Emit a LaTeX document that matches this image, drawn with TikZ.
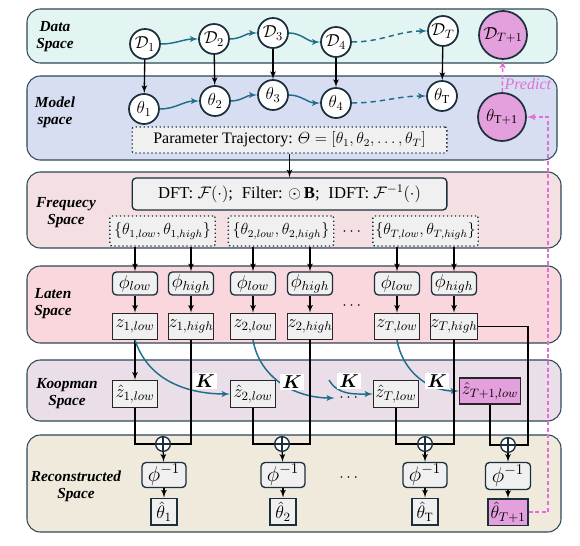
\RequirePackage{fix-cm}
\documentclass[tikz,border=0pt]{standalone}
\usepackage{amsmath,amssymb}
\usepackage{fontspec}
\setmainfont{Liberation Serif}
\usetikzlibrary{shapes,arrows,positioning,calc}

\definecolor{bandline}{HTML}{2E4756}
\definecolor{nodeline}{HTML}{1B2F3D}
\definecolor{databack}{HTML}{E3F5F3}
\definecolor{modelback}{HTML}{D8DEF1}
\definecolor{freqback}{HTML}{F4E0E2}
\definecolor{latenback}{HTML}{F9D7DD}
\definecolor{koopback}{HTML}{EADFE9}
\definecolor{reconback}{HTML}{EFEADC}
\definecolor{flowblue}{HTML}{1F6E8C}
\definecolor{predpink}{HTML}{E070D6}
\definecolor{predfill}{HTML}{E4A0DC}
\definecolor{boxgray}{HTML}{F0F0F0}

\begin{document}
\begin{tikzpicture}[x=0.75pt, y=-0.75pt, >=latex', every text node part/.style={align=center},
    band/.style={draw=bandline, line width=0.8pt, rounded corners=10pt},
    bandlabel/.style={font=\fontsize{11.5}{12.75}\selectfont\bfseries\itshape},
    state/.style={circle, draw=nodeline, line width=1.3pt, fill=white, minimum size=22.5pt, inner sep=0pt, font=\fontsize{13}{12}\selectfont},
    bigstate/.style={state, fill=predfill, minimum size=36pt},
    dotbox/.style={draw=nodeline, dotted, line width=1pt, fill=boxgray, rounded corners=1.5pt, inner sep=1pt, minimum width=79pt, minimum height=22.5pt, font=\fontsize{12}{12}\selectfont},
    opbox/.style={draw=nodeline, line width=1pt, fill=boxgray, rounded corners=3pt, minimum width=236pt, font=\fontsize{12}{12}\selectfont},
    encbox/.style={draw=nodeline, line width=1pt, fill=boxgray, rounded corners=3pt, minimum width=33.75pt, minimum height=17.25pt, inner sep=0pt, font=\fontsize{14}{12}\selectfont},
    latbox/.style={draw=black!85, line width=1pt, fill=boxgray, minimum width=33.75pt, minimum height=19.5pt, inner sep=0pt, font=\fontsize{13.5}{12}\selectfont},
    sumnode/.style={circle, draw=nodeline, line width=1pt, fill=white, minimum size=11pt, inner sep=0pt,
        path picture={\draw[line width=1pt] (path picture bounding box.north) -- (path picture bounding box.south)
                      (path picture bounding box.west) -- (path picture bounding box.east);}},
    flow/.style={->, draw=flowblue, line width=1.1pt},
    flowdash/.style={flow, dash pattern=on 4pt off 3pt},
    link/.style={->, line width=1pt},
    wire/.style={line width=1pt},
    klabel/.style={fill=white, inner sep=1.5pt, font=\fontsize{14}{12}\selectfont},
    pred/.style={->, draw=predpink, line width=1.2pt, dash pattern=on 3pt off 2pt},
    dots/.style={font=\fontsize{12}{12}\selectfont}]

    \useasboundingbox (0,0) rectangle (580,545);

    % spaces
    \draw[band, fill=databack] (27,9) rectangle (557,63);
    \draw[band, fill=modelback] (27,76) rectangle (557,160);
    \draw[band, fill=freqback] (27,172) rectangle (561,248);
    \draw[band, fill=latenback] (27,266) rectangle (561,343);
    \draw[band, fill=koopback] (27,360) rectangle (561,421);
    \draw[band, fill=reconback] (27,435) rectangle (561,532);

    \node[bandlabel] (dataL) at (55,37) {Data\\Space};
    \node[bandlabel] (modelL) at (55,112) {Model\\space};
    \node[bandlabel] (freqL) at (66,213) {Frequecy\\Space};
    \node[bandlabel] (latenL) at (53,304) {Laten\\Space};
    \node[bandlabel] (koopL) at (67,394) {Koopman\\Space};
    \node[bandlabel] (reconL) at (76,486) {Reconstructed\\Space};

    % data and model states
    \node[state] (D1) at (145,44) {$\mathcal{D}_1$};
    \node[state] (D2) at (214,39) {$\mathcal{D}_2$};
    \node[state] (D3) at (273,33) {$\mathcal{D}_3$};
    \node[state] (D4) at (336,42) {$\mathcal{D}_4$};
    \node[state] (DT) at (443,31) {$\mathcal{D}_T$};
    \node[bigstate] (DT1) at (503,35) {$\mathcal{D}_{T+1}$};

    \node[state] (th1) at (144,109) {$\theta_1$};
    \node[state] (th2) at (215,101) {$\theta_2$};
    \node[state] (th3) at (273,95) {$\theta_3$};
    \node[state] (th4) at (336,103) {$\theta_4$};
    \node[state] (thT) at (442,96) {$\theta_{\mathrm{T}}$};
    \node[bigstate] (thT1) at (502,117) {$\theta_{\mathrm{T+1}}$};

    \draw[flow] (D1) to[out=0,in=180] (D2);
    \draw[flow] (D2) to[out=0,in=180] (D3);
    \draw[flow] (D3) to[out=0,in=180] (D4);
    \draw[flowdash] (D4) to[out=0,in=180] (DT);
    \draw[flow] (th1) to[out=0,in=180] (th2);
    \draw[flow] (th2) to[out=0,in=180] (th3);
    \draw[flow] (th3) to[out=0,in=180] (th4);
    \draw[flowdash] (th4) to[out=0,in=180] (thT);

    \draw[link] (D1) -- (th1);
    \draw[link] (D2) -- (th2);
    \draw[link] (D3) -- (th3);
    \draw[link] (D4) -- (th4);
    \draw[link] (DT) -- (thT);

    \node[opbox, dotted, rounded corners=1.5pt, minimum height=19.5pt] (traj) at (289.5,140)
        {Parameter Trajectory: $\varTheta = [\theta_1, \theta_2, \ldots, \theta_T]$};

    % frequency space
    \node[opbox, minimum height=24pt, font=\fontsize{12.5}{12}\selectfont] (dft) at (289.5,194)
        {DFT: $\mathcal{F}(\cdot)$;\; Filter: $\odot\,\mathbf{B}$;\; IDFT: $\mathcal{F}^{-1}(\cdot)$};
    \draw[link] (traj) -- (dft);

    \node[dotbox] (S1) at (162.5,231) {$\{\theta_{1,low}, \theta_{1,high}\}$};
    \node[dotbox] (S2) at (281,231) {$\{\theta_{2,low}, \theta_{2,high}\}$};
    \node[dotbox] (ST) at (425.5,231) {$\{\theta_{T,low}, \theta_{T,high}\}$};
    \node[dots] (fdots) at (353,232) {$\cdots$};

    % laten space
    \node[encbox] (pL1) at (135,283.5) {$\phi_{low}$};
    \node[encbox] (pH1) at (191,283.5) {$\phi_{high}$};
    \node[encbox] (pL2) at (253,283.5) {$\phi_{low}$};
    \node[encbox] (pH2) at (310,283.5) {$\phi_{high}$};
    \node[encbox] (pLT) at (397,283.5) {$\phi_{low}$};
    \node[encbox] (pHT) at (454,283.5) {$\phi_{high}$};
    \node[dots] (ldots) at (353,306) {$\cdots$};

    \node[latbox, below=12.75pt of pL1] (zL1) {$z_{1,low}$};
    \node[latbox, below=12.75pt of pH1] (zH1) {$z_{1,high}$};
    \node[latbox, below=12.75pt of pL2] (zL2) {$z_{2,low}$};
    \node[latbox, below=12.75pt of pH2] (zH2) {$z_{2,high}$};
    \node[latbox, below=12.75pt of pLT] (zLT) {$z_{T,low}$};
    \node[latbox, below=12.75pt of pHT] (zHT) {$z_{T,high}$};

    \draw[link] (S1.south -| pL1) -- (pL1);
    \draw[link] (S1.south -| pH1) -- (pH1);
    \draw[link] (S2.south -| pL2) -- (pL2);
    \draw[link] (S2.south -| pH2) -- (pH2);
    \draw[link] (ST.south -| pLT) -- (pLT);
    \draw[link] (ST.south -| pHT) -- (pHT);
    \draw[link] (pL1) -- (zL1);
    \draw[link] (pH1) -- (zH1);
    \draw[link] (pL2) -- (zL2);
    \draw[link] (pH2) -- (zH2);
    \draw[link] (pLT) -- (zLT);
    \draw[link] (pHT) -- (zHT);

    % koopman space
    \node[latbox, minimum height=20.25pt] (zh1) at (135,394) {$\hat{z}_{1,low}$};
    \node[latbox, minimum height=20.25pt] (zh2) at (253,394) {$\hat{z}_{2,low}$};
    \node[latbox, minimum height=20.25pt] (zhT) at (396,394) {$\hat{z}_{T,low}$};
    \node[latbox, fill=predfill, minimum width=45.75pt, font=\fontsize{13}{12}\selectfont] (zhT1) at (490,391) {$\hat{z}_{T+1,low}$};
    \node[dots] (kdots) at (350,398) {$\cdots$};
    \coordinate (kstart) at (329,380);

    \draw[link] (zL1) -- (zh1);
    \draw[flow] (zL1.south) to[out=-72,in=180] (zh2.west);
    \draw[flow] (zL2.south) to[out=-80,in=180] (kdots.west);
    \draw[flow] (kstart) to[out=-60,in=180] (zhT.west);
    \draw[flow] (zLT.south) to[out=-80,in=180] (zhT1.west);

    \node[klabel] (K1) at (205,381) {$\boldsymbol{K}$};
    \node[klabel] (K2) at (292,382) {$\boldsymbol{K}$};
    \node[klabel] (K3) at (349,381) {$\boldsymbol{K}$};
    \node[klabel] (K4) at (437,381) {$\boldsymbol{K}$};

    % reconstructed space
    \node[sumnode] (sum1) at (163,444) {};
    \node[sumnode] (sum2) at (282,444) {};
    \node[sumnode] (sumT) at (425,444) {};
    \node[sumnode] (sumT1) at (508,445) {};
    \coordinate (turn) at (528,445);

    \draw[wire] (zh1.south) |- (sum1.west);
    \draw[wire] (zH1.south) |- (sum1.east);
    \draw[wire] (zh2.south) |- (sum2.west);
    \draw[wire] (zH2.south) |- (sum2.east);
    \draw[wire] (zhT.south) |- (sumT.west);
    \draw[wire] (zHT.south) |- (sumT.east);
    \draw[wire] (zhT1.south) |- (sumT1.west);
    \draw[wire] (zHT.east) -| (turn) -- (sumT1.east);

    \node[encbox, minimum width=33pt, minimum height=18.75pt, font=\fontsize{16}{12}\selectfont] (ip1) at (164,475) {$\phi^{-1}$};
    \node[encbox, minimum width=33pt, minimum height=18.75pt, font=\fontsize{16}{12}\selectfont] (ip2) at (283,475) {$\phi^{-1}$};
    \node[encbox, minimum width=33pt, minimum height=18.75pt, font=\fontsize{16}{12}\selectfont] (ipT) at (425,475) {$\phi^{-1}$};
    \node[encbox, minimum width=33.75pt, minimum height=20.25pt, font=\fontsize{16}{12}\selectfont] (ipT1) at (508,476) {$\phi^{-1}$};
    \node[dots] (rdots) at (350,478) {$\cdots$};

    \node[latbox, draw=nodeline, minimum width=19.5pt, minimum height=20pt, font=\fontsize{13.5}{12}\selectfont, below=7pt of ip1] (ht1) {$\hat{\theta}_1$};
    \node[latbox, draw=nodeline, minimum width=19.5pt, minimum height=20pt, font=\fontsize{13.5}{12}\selectfont, below=7pt of ip2] (ht2) {$\hat{\theta}_2$};
    \node[latbox, draw=nodeline, minimum width=19.5pt, minimum height=20pt, font=\fontsize{13.5}{12}\selectfont, below=7pt of ipT] (htT) {$\hat{\theta}_{\mathrm{T}}$};
    \node[latbox, draw=nodeline, fill=predfill, minimum width=30pt, minimum height=20pt, font=\fontsize{13.5}{12}\selectfont, below=6pt of ipT1] (htT1) {$\hat{\theta}_{T+1}$};

    \draw[link] (sum1) -- (ip1);
    \draw[link] (sum2) -- (ip2);
    \draw[link] (sumT) -- (ipT);
    \draw[link] (sumT1) -- (ipT1);
    \draw[link] (ip1) -- (ht1);
    \draw[link] (ip2) -- (ht2);
    \draw[link] (ipT) -- (htT);
    \draw[link] (ipT1) -- (htT1);

    % prediction
    \coordinate (pk) at (548,117);
    \draw[pred] (htT1.east) -| (pk) -- (thT1);
    \draw[pred] (thT1) -- node[pos=0.25, anchor=west, inner sep=1pt, text=predpink, font=\fontsize{12}{12}\selectfont\itshape] (predL) {Predict} (DT1);
\end{tikzpicture}
\end{document}
